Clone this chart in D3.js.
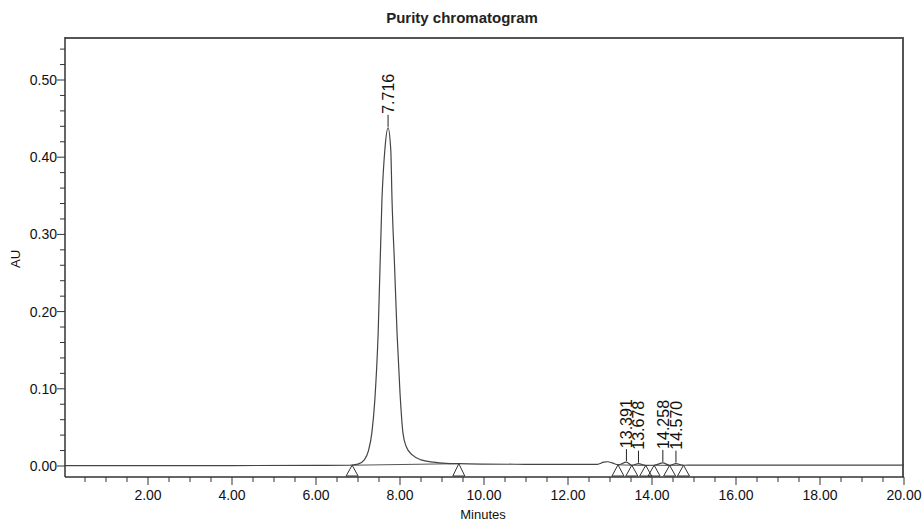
<!DOCTYPE html>
<html>
<head>
<meta charset="utf-8">
<script src="https://cdn.jsdelivr.net/npm/d3@7"></script>
<style>
  body { margin: 0; background: #fff; }
  svg { font-family: "Liberation Sans", Arial, sans-serif; }
</style>
</head>
<body>
<div class="figure"></div>
<script>
// trace (minutes, AU)
const traceTime = [0.0, 2.0, 4.0, 6.0, 6.8, 7.0, 7.15, 7.25, 7.33, 7.40, 7.48, 7.57, 7.64, 7.716, 7.78, 7.81, 7.87, 7.93, 8.00, 8.07, 8.15, 8.30, 8.50, 8.80, 9.10, 9.40, 10.0, 11.0, 12.0, 12.7, 12.85, 12.95, 13.05, 13.2, 13.391, 13.52, 13.678, 13.85, 14.05, 14.258, 14.42, 14.570, 14.75, 15.0, 17.0, 20.0]
const traceAU = [0.0006, 0.0006, 0.0006, 0.0008, 0.001, 0.0025, 0.008, 0.02, 0.043, 0.085, 0.172, 0.345, 0.41, 0.438, 0.41, 0.345, 0.26, 0.172, 0.095, 0.043, 0.025, 0.014, 0.008, 0.005, 0.0035, 0.003, 0.0025, 0.0022, 0.002, 0.0022, 0.005, 0.0055, 0.004, 0.0015, 0.005, 0.001, 0.003, 0.0008, 0.001, 0.004, 0.0008, 0.003, 0.001, 0.0012, 0.0012, 0.0012]

// labelled peaks
const peakRT = [7.716, 13.391, 13.678, 14.258, 14.570]
const peakAU = [0.438, 0.005, 0.003, 0.004, 0.003]
const peakLabels = ["7.716", "13.391", "13.678", "14.258", "14.570"]

// integration start / end markers
const markerTime = [6.86, 9.40, 13.19, 13.52, 13.85, 14.05, 14.42, 14.75]
const markerAU = [0.001, 0.003, 0.0015, 0.001, 0.0008, 0.001, 0.0008, 0.001]
// baselines drawn between markers (index pairs)
const baselinePairs = [[0, 1], [2, 3], [3, 4], [5, 6], [6, 7]]

const xTicksMajor = [2, 4, 6, 8, 10, 12, 14, 16, 18, 20]
const yTicksMajor = [0, 0.1, 0.2, 0.3, 0.4, 0.5]

const width = 922
const height = 523
const plotLeft = 65, plotRight = 903, plotTop = 38, plotBottom = 477

const x = d3.scaleLinear().domain([0, 20]).range([64, 904])
const y = d3.scaleLinear().domain([0, 0.5]).range([466, 80])

const svg = d3.select(".figure").append("svg")
    .attr("width", width)
    .attr("height", height)

// title
svg.append("text")
    .attr("x", 462).attr("y", 23)
    .attr("text-anchor", "middle")
    .style("font-size", "15px").style("font-weight", "bold")
    .attr("fill", "#222")
    .text("Purity chromatogram")

// frame (top + right)
svg.append("path")
    .attr("d", `M${plotLeft},${plotTop}H${plotRight}V${plotBottom}`)
    .attr("fill", "none").attr("stroke", "#555").attr("stroke-width", 2)

// x axis
const xMinor = d3.range(0.5, 20.01, 0.5).filter(d => !xTicksMajor.includes(d))
const xAxis = svg.append("g").attr("transform", `translate(0,${plotBottom})`)
xAxis.append("line").attr("x1", plotLeft).attr("x2", plotRight + 1)
    .attr("stroke", "#333").attr("stroke-width", 1.5)
xAxis.selectAll(".minor").data(xMinor).join("line")
    .attr("x1", d => x(d)).attr("x2", d => x(d))
    .attr("y1", 0).attr("y2", 5)
    .attr("stroke", "#333")
xAxis.selectAll(".major").data(xTicksMajor).join("line")
    .attr("x1", d => x(d)).attr("x2", d => x(d))
    .attr("y1", 0).attr("y2", 8)
    .attr("stroke", "#333")
xAxis.selectAll("text").data(xTicksMajor).join("text")
    .attr("x", d => x(d)).attr("y", 23)
    .attr("text-anchor", "middle")
    .style("font-size", "14px").attr("fill", "#111")
    .text(d => d3.format(".2f")(d))

svg.append("text")
    .attr("x", 483).attr("y", 519)
    .attr("text-anchor", "middle")
    .style("font-size", "13px").attr("fill", "#111")
    .text("Minutes")

// y axis
const yMinor = d3.range(0.02, 0.5501, 0.02).filter(d => Math.abs(d * 10 - Math.round(d * 10)) > 1e-6)
const yAxis = svg.append("g").attr("transform", `translate(${plotLeft},0)`)
yAxis.append("line").attr("y1", plotTop - 1).attr("y2", plotBottom)
    .attr("stroke", "#333").attr("stroke-width", 1.5)
yAxis.selectAll(".minor").data(yMinor).join("line")
    .attr("y1", d => y(d)).attr("y2", d => y(d))
    .attr("x1", 0).attr("x2", -5)
    .attr("stroke", "#333")
yAxis.selectAll(".major").data(yTicksMajor).join("line")
    .attr("y1", d => y(d)).attr("y2", d => y(d))
    .attr("x1", 0).attr("x2", -8)
    .attr("stroke", "#333")
yAxis.selectAll("text").data(yTicksMajor).join("text")
    .attr("x", -8).attr("y", d => y(d) + 5)
    .attr("text-anchor", "end")
    .style("font-size", "14px").attr("fill", "#111")
    .text(d => d3.format(".2f")(d))

svg.append("text")
    .attr("transform", "translate(20,259) rotate(-90)")
    .attr("text-anchor", "middle")
    .style("font-size", "13px").attr("fill", "#111")
    .text("AU")

// integration baselines
svg.append("g").selectAll("line").data(baselinePairs).join("line")
    .attr("x1", d => x(markerTime[d[0]])).attr("y1", d => y(markerAU[d[0]]))
    .attr("x2", d => x(markerTime[d[1]])).attr("y2", d => y(markerAU[d[1]]))
    .attr("stroke", "#555").attr("stroke-width", 1)

// trace
const pts = traceTime.map((t, i) => [t, traceAU[i]])
svg.append("path")
    .datum(pts)
    .attr("fill", "none")
    .attr("stroke", "#444")
    .attr("stroke-width", 1.2)
    .attr("d", d3.line().x(d => x(d[0])).y(d => y(d[1])).curve(d3.curveMonotoneX))

// markers (open triangles)
svg.append("g").selectAll("path").data(markerTime).join("path")
    .attr("d", (d, i) => {
        const cx = x(d), ty = y(markerAU[i])
        return `M${cx},${ty}L${cx - 6},${plotBottom - 1}L${cx + 6},${plotBottom - 1}Z`
    })
    .attr("fill", "none").attr("stroke", "#333").attr("stroke-width", 1)

// peak labels
const lab = svg.append("g").selectAll("g").data(peakRT).join("g")
lab.append("line")
    .attr("x1", d => x(d)).attr("x2", d => x(d))
    .attr("y1", (d, i) => y(peakAU[i]) - 1)
    .attr("y2", (d, i) => y(peakAU[i]) - 13)
    .attr("stroke", "#222")
lab.append("text")
    .attr("transform", (d, i) => `translate(${x(d) + 6},${y(peakAU[i]) - 14}) rotate(-90)`)
    .style("font-size", "16px").attr("fill", "#111")
    .text((d, i) => peakLabels[i])
</script>
</body>
</html>
